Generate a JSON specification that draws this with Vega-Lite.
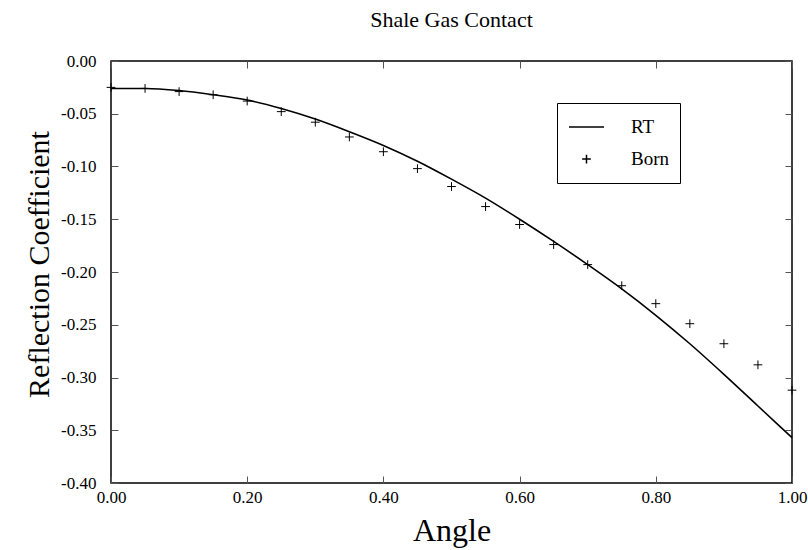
{
  "$schema": "https://vega.github.io/schema/vega-lite/v6.json",
  "width": 681,
  "height": 422,
  "autosize": {"type": "none"},
  "padding": {"left": 111, "top": 61, "right": 16, "bottom": 67},
  "background": "white",
  "title": {"text": "Shale Gas Contact", "font": "Liberation Serif", "fontSize": 22, "fontWeight": "normal", "color": "black", "anchor": "middle", "offset": 20},
  "config": {"view": {"stroke": "black", "strokeWidth": 1.5}, "font": "Liberation Serif"},
  "data": {"values": [
    {"angle": 0.00, "value": -0.026, "series": "RT"},
    {"angle": 0.05, "value": -0.026, "series": "RT"},
    {"angle": 0.10, "value": -0.028, "series": "RT"},
    {"angle": 0.15, "value": -0.032, "series": "RT"},
    {"angle": 0.20, "value": -0.037, "series": "RT"},
    {"angle": 0.25, "value": -0.045, "series": "RT"},
    {"angle": 0.30, "value": -0.055, "series": "RT"},
    {"angle": 0.35, "value": -0.067, "series": "RT"},
    {"angle": 0.40, "value": -0.080, "series": "RT"},
    {"angle": 0.45, "value": -0.095, "series": "RT"},
    {"angle": 0.50, "value": -0.112, "series": "RT"},
    {"angle": 0.55, "value": -0.130, "series": "RT"},
    {"angle": 0.60, "value": -0.150, "series": "RT"},
    {"angle": 0.65, "value": -0.171, "series": "RT"},
    {"angle": 0.70, "value": -0.193, "series": "RT"},
    {"angle": 0.75, "value": -0.216, "series": "RT"},
    {"angle": 0.80, "value": -0.241, "series": "RT"},
    {"angle": 0.85, "value": -0.268, "series": "RT"},
    {"angle": 0.90, "value": -0.297, "series": "RT"},
    {"angle": 0.95, "value": -0.327, "series": "RT"},
    {"angle": 1.00, "value": -0.357, "series": "RT"},
    {"angle": 0.00, "value": -0.025, "series": "Born"},
    {"angle": 0.05, "value": -0.026, "series": "Born"},
    {"angle": 0.10, "value": -0.029, "series": "Born"},
    {"angle": 0.15, "value": -0.032, "series": "Born"},
    {"angle": 0.20, "value": -0.038, "series": "Born"},
    {"angle": 0.25, "value": -0.048, "series": "Born"},
    {"angle": 0.30, "value": -0.058, "series": "Born"},
    {"angle": 0.35, "value": -0.072, "series": "Born"},
    {"angle": 0.40, "value": -0.086, "series": "Born"},
    {"angle": 0.45, "value": -0.102, "series": "Born"},
    {"angle": 0.50, "value": -0.119, "series": "Born"},
    {"angle": 0.55, "value": -0.138, "series": "Born"},
    {"angle": 0.60, "value": -0.155, "series": "Born"},
    {"angle": 0.65, "value": -0.174, "series": "Born"},
    {"angle": 0.70, "value": -0.193, "series": "Born"},
    {"angle": 0.75, "value": -0.213, "series": "Born"},
    {"angle": 0.80, "value": -0.230, "series": "Born"},
    {"angle": 0.85, "value": -0.249, "series": "Born"},
    {"angle": 0.90, "value": -0.268, "series": "Born"},
    {"angle": 0.95, "value": -0.288, "series": "Born"},
    {"angle": 1.00, "value": -0.312, "series": "Born"}
  ]},
  "layer": [
    {
      "transform": [{"filter": "datum.series === 'RT'"}],
      "mark": {"type": "line", "color": "black", "strokeWidth": 1.6, "interpolate": "monotone"},
      "encoding": {
        "x": {"field": "angle", "type": "quantitative", "scale": {"domain": [0, 1], "nice": false, "zero": false},
          "axis": {"orient": "bottom", "values": [0, 0.2, 0.4, 0.6, 0.8, 1.0], "format": ".2f", "labelFont": "Liberation Serif", "labelFontSize": 17, "labelColor": "black", "tickSize": -7, "tickColor": "#555555", "domain": false, "grid": false, "labelPadding": 13, "labelFlush": false,
            "title": "Angle", "titleFont": "Liberation Serif", "titleFontSize": 32, "titleFontWeight": "normal", "titleColor": "black", "titleY": 57, "titleBaseline": "alphabetic"}},
        "y": {"field": "value", "type": "quantitative", "scale": {"domain": [-0.4, 0], "nice": false, "zero": false},
          "axis": {"orient": "left", "values": [-0.4, -0.35, -0.3, -0.25, -0.2, -0.15, -0.1, -0.05, 0], "labelExpr": "replace(format(datum.value, '.2f'), '−', '-')", "labelFont": "Liberation Serif", "labelFontSize": 17, "labelColor": "black", "tickSize": -7, "tickColor": "#555555", "domain": false, "grid": false, "labelPadding": 22, "labelFlush": false,
            "title": "Reflection Coefficient", "titleFont": "Liberation Serif", "titleFontSize": 30, "titleFontWeight": "normal", "titleColor": "black", "titleX": -72, "titleY": 203, "titleAngle": -90, "titleAlign": "center", "titleBaseline": "middle"}}
      }
    },
    {
      "transform": [{"filter": "datum.series === 'Born'"}],
      "mark": {"type": "point", "filled": false, "stroke": "black", "strokeWidth": 1, "opacity": 1},
      "encoding": {
        "x": {"field": "angle", "type": "quantitative", "scale": {"domain": [0, 1], "nice": false, "zero": false},
          "axis": {"orient": "top", "values": [0, 0.2, 0.4, 0.6, 0.8, 1.0], "labels": false, "tickSize": -7, "tickColor": "#555555", "domain": false, "grid": false, "title": null}},
        "y": {"field": "value", "type": "quantitative", "scale": {"domain": [-0.4, 0], "nice": false, "zero": false},
          "axis": {"orient": "right", "values": [-0.4, -0.35, -0.3, -0.25, -0.2, -0.15, -0.1, -0.05, 0], "labels": false, "tickSize": -7, "tickColor": "#555555", "domain": false, "grid": false, "title": null}},
        "shape": {"field": "series", "type": "nominal",
          "scale": {"domain": ["RT", "Born"], "range": ["stroke", "M-0.25,0H0.25M0,-0.25V0.25"]},
          "legend": {"orient": "none", "legendX": 446, "legendY": 42, "title": null, "strokeColor": "black", "fillColor": "white", "padding": 11, "labelFont": "Liberation Serif", "labelFontSize": 19, "labelColor": "black", "symbolStrokeColor": "black", "symbolStrokeWidth": 1.5, "symbolSize": 1225, "clipHeight": 26, "rowPadding": 6, "labelOffset": 26}},
        "size": {"value": 1225}
      }
    }
  ],
  "resolve": {"axis": {"x": "independent", "y": "independent"}}
}
